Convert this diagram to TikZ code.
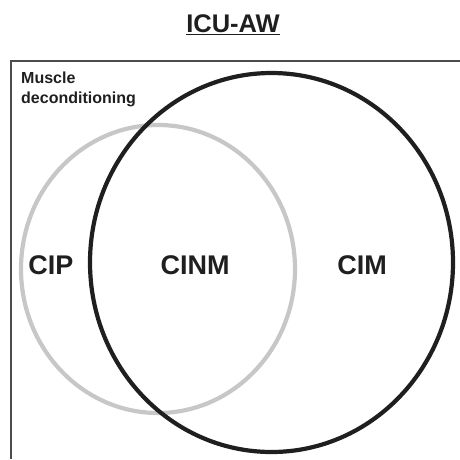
\documentclass[tikz,border=0pt]{standalone}
\usepackage{fontspec}
\setmainfont{Liberation Sans}
\tikzset{
  frameline/.style={line width=1.2pt, draw=black!70},
  graycirc/.style={line width=4.2pt, draw=black!22},
  blackcirc/.style={line width=4.2pt, draw=black!88},
  biglabel/.style={font=\bfseries\fontsize{27}{30}\selectfont, text=black!88, inner sep=0pt},
}
\begin{document}
\begin{tikzpicture}[x=1pt,y=1pt]
\useasboundingbox (0,0) rectangle (460,459);
\draw[frameline] (11,0) -- (11,398) -- (460,398);
\draw[graycirc] (158,190) ellipse [x radius=137, y radius=144];
\draw[blackcirc] (271.5,196.5) ellipse [x radius=181.5, y radius=189.5];
\node[inner sep=0pt, font=\bfseries\fontsize{25.5}{28}\selectfont, text=black!88] (title) at (233,434) {\underline{ICU-AW}};
\node[anchor=north west, align=left, inner sep=0pt, font=\bfseries\fontsize{16}{20}\selectfont, text=black!88] (muscle) at (21,387) {Muscle\\deconditioning};
\node[biglabel] (cip) at (51,194) {CIP};
\node[biglabel] (cinm) at (195,194) {CINM};
\node[biglabel] (cim) at (362,194) {CIM};
\end{tikzpicture}
\end{document}
